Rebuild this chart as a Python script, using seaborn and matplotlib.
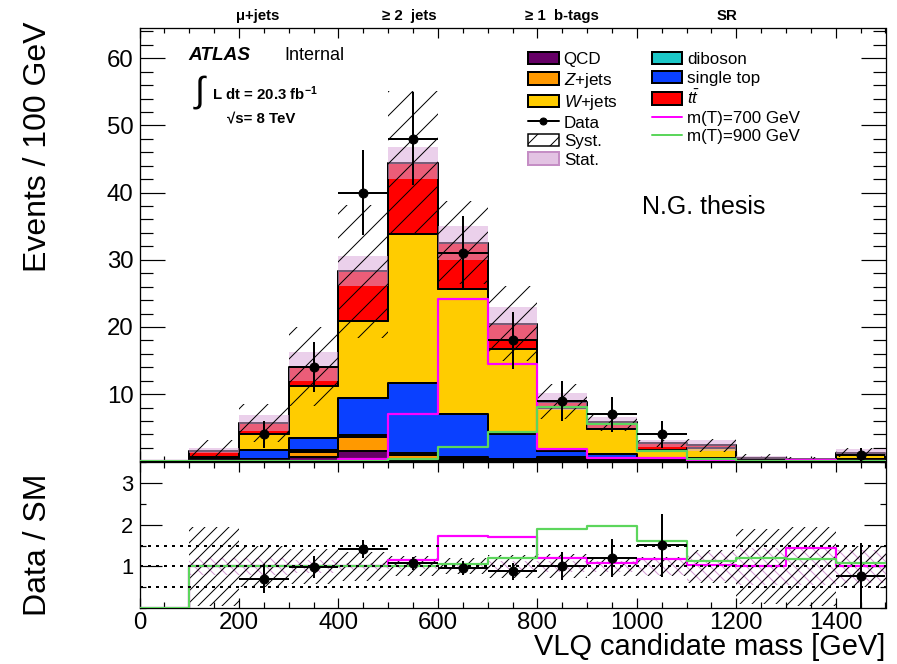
import numpy as np
import pandas as pd
import matplotlib
matplotlib.use("Agg")
import matplotlib.pyplot as plt
import seaborn as sns
from matplotlib.patches import Patch
from matplotlib.lines import Line2D
from matplotlib.ticker import MultipleLocator, FixedLocator

# ---------------- data ----------------
bin_edges = list(range(0, 1600, 100))
qcd      = [0, 0.00, 0.10, 0.60, 1.60, 0.30, 0.30, 0.20, 0.30, 0.20, 0.10, 0.10, 0.05, 0.02, 0.05]
zjets    = [0, 0.05, 0.20, 0.80, 2.00, 0.60, 0.30, 0.10, 0.20, 0.20, 0.10, 0.10, 0.05, 0.02, 0.05]
diboson  = [0, 0.05, 0.10, 0.30, 0.30, 0.30, 0.10, 0.10, 0.10, 0.10, 0.05, 0.05, 0.02, 0.01, 0.05]
singletop= [0, 0.20, 1.30, 1.80, 5.50, 10.4, 6.40, 3.70, 0.90, 0.60, 0.20, 0.30, 0.08, 0.05, 0.15]
wjets    = [0, 0.30, 2.40, 7.70, 11.5, 22.3, 18.5, 12.6, 6.40, 3.70, 1.25, 1.45, 0.30, 0.15, 0.70]
ttbar    = [0, 1.00, 1.60, 2.90, 7.40, 10.5, 6.90, 3.80, 1.00, 1.00, 0.95, 0.40, 0.05, 0.05, 0.28]
data     = [0, 0, 4, 14, 40, 48, 31, 18, 9, 7, 4, 0, 0, 0, 1]
m700     = [0, 0, 0, 0.10, 0.40, 7.10, 24.1, 14.5, 1.80, 0.45, 0.45, 0.07, 0.0, 0.13, 0.0]
m900     = [0, 0, 0, 0.00, 0.10, 0.30, 2.20, 4.30, 8.10, 5.60, 1.60, 0.29, 0.115, 0.05, 0.09]
syst_rel = [0, 0.95, 0.50, 0.42, 0.35, 0.24, 0.19, 0.27, 0.29, 0.22, 0.22, 0.40, 0.90, 0.95, 0.50]
stat_rel = [0, 0.20, 0.20, 0.15, 0.08, 0.055, 0.08, 0.12, 0.14, 0.14, 0.20, 0.35, 0.45, 0.45, 0.40]

proc_names = ["ttbar", "W+jets", "single top", "diboson", "Z+jets", "QCD"]  # top -> bottom
proc_vals = {"QCD": qcd, "Z+jets": zjets, "diboson": diboson,
             "single top": singletop, "W+jets": wjets, "ttbar": ttbar}
colors = {"QCD": "#660066", "Z+jets": "#ff9900", "W+jets": "#ffcc00",
          "diboson": "#1cc8c8", "single top": "#0a40ff", "ttbar": "#ff0000"}
c700 = "#ff00ff"
c900 = "#5cd65c"
stat_face = "#dcaadc"

# ---------------- style ----------------
sns.set_theme(style="ticks")
plt.rcParams["font.family"] = ["Liberation Sans", "DejaVu Sans"]
plt.rcParams["mathtext.fontset"] = "custom"
plt.rcParams["mathtext.rm"] = "Liberation Sans"
plt.rcParams["mathtext.it"] = "Liberation Sans:italic"
plt.rcParams["mathtext.bf"] = "Liberation Sans:bold"
plt.rcParams["hatch.linewidth"] = 1.0
for k in ("text.color", "axes.labelcolor", "xtick.color", "ytick.color", "axes.edgecolor"):
    plt.rcParams[k] = "black"

W, H, DPI = 897, 664, 72
def fx(p): return p / W
def fy(p): return 1 - p / H

fig = plt.figure(figsize=(W / DPI, H / DPI), dpi=DPI)
X0, X1 = 139.5, 885.5
ax = fig.add_axes([fx(X0), fy(461.3), (X1 - X0) / W, (461.3 - 28) / H])
axr = fig.add_axes([fx(X0), fy(608), (X1 - X0) / W, (608 - 462.4) / H])

edges_arr = np.array(bin_edges, dtype=float)
centers = edges_arr[:-1] + 50
tot = np.sum([np.array(proc_vals[p]) for p in proc_names], axis=0)
dat = np.array(data, dtype=float)
mask = tot > 0

# ---------------- main panel: stack ----------------
df = pd.DataFrame({
    "mass": np.tile(centers, len(proc_names)),
    "events": np.concatenate([proc_vals[p] for p in proc_names]),
    "process": np.repeat(proc_names, len(centers)),
})
sns.histplot(data=df, x="mass", weights="events", hue="process", hue_order=proc_names,
             palette=colors, multiple="stack", bins=bin_edges, element="step",
             fill=True, alpha=1, edgecolor="black", linewidth=2, legend=False, ax=ax)

stat_abs = tot * np.array(stat_rel)
syst_abs = tot * np.array(syst_rel)
ax.bar(centers[mask], 2 * stat_abs[mask], bottom=(tot - stat_abs)[mask], width=100,
       color=stat_face, alpha=0.55, linewidth=0, zorder=3)
ax.bar(centers[mask], 2 * syst_abs[mask], bottom=(tot - syst_abs)[mask], width=100,
       facecolor="none", edgecolor="black", hatch="/", linewidth=0, zorder=4)

sns.histplot(x=centers, weights=m700, bins=bin_edges, element="step", fill=False,
             color=c700, linewidth=2.2, ax=ax, zorder=5)
sns.histplot(x=centers, weights=m900, bins=bin_edges, element="step", fill=False,
             color=c900, linewidth=2.2, ax=ax, zorder=5)

dm = dat > 0
ax.errorbar(centers[dm], dat[dm], xerr=50, yerr=np.sqrt(dat[dm]), fmt="o", color="black",
            ms=9, lw=2, capsize=0, zorder=6)

# ---------------- ratio panel ----------------
axr.bar(centers[mask], 2 * np.array(stat_rel)[mask], bottom=1 - np.array(stat_rel)[mask],
        width=100, facecolor="none", edgecolor="#d49ad4", hatch="xx", linewidth=0, zorder=2)
axr.bar(centers[mask], 2 * np.array(syst_rel)[mask], bottom=1 - np.array(syst_rel)[mask],
        width=100, facecolor="none", edgecolor="black", hatch="//", linewidth=0, zorder=3)

safe = np.where(mask, tot, 1.0)
r700 = np.where(mask, (tot + np.array(m700)) / safe, 0.0)
r900 = np.where(mask, (tot + np.array(m900)) / safe, 0.0)
sns.histplot(x=centers, weights=r700, bins=bin_edges, element="step", fill=False,
             color=c700, linewidth=2.2, ax=axr, zorder=4)
sns.histplot(x=centers, weights=r900, bins=bin_edges, element="step", fill=False,
             color=c900, linewidth=2.2, ax=axr, zorder=5)
for yv in (0.5, 1.0, 1.5):
    axr.axhline(yv, color="black", lw=2, ls=(0, (1.5, 2.5)), zorder=6)

rd = dat[dm] / tot[dm]
re = np.sqrt(dat[dm]) / tot[dm]
axr.errorbar(centers[dm], rd, xerr=50, yerr=re, fmt="o", color="black", ms=9, lw=2,
             capsize=0, zorder=7)

# ---------------- axes cosmetics ----------------
for a in (ax, axr):
    a.set_xlim(0, 1500)
    a.xaxis.set_major_locator(MultipleLocator(200))
    a.xaxis.set_minor_locator(MultipleLocator(50))
    a.tick_params(which="both", direction="in", top=True, right=True, width=1.2,
                  color="black", labelcolor="black")
    for s in a.spines.values():
        s.set_linewidth(1.3)
        s.set_color("black")
    a.grid(False)

ax.set_ylim(0, 64.5)
ax.yaxis.set_major_locator(FixedLocator([10, 20, 30, 40, 50, 60]))
ax.yaxis.set_minor_locator(MultipleLocator(2))
ax.tick_params(axis="y", which="major", length=25, labelsize=24, pad=6)
ax.tick_params(axis="y", which="minor", length=13)
ax.tick_params(axis="x", which="major", length=10, labelbottom=False)
ax.tick_params(axis="x", which="minor", length=5)
ax.set_xlabel("")
ax.set_ylabel("Events / 100 GeV", fontsize=32, color="black")
ax.yaxis.set_label_coords(-0.116, 0.725)

axr.set_ylim(0, 3.5)
axr.yaxis.set_major_locator(FixedLocator([1, 2, 3]))
axr.yaxis.set_minor_locator(MultipleLocator(0.5))
axr.tick_params(axis="y", which="major", length=22, labelsize=22, pad=6)
axr.tick_params(axis="y", which="minor", length=6)
axr.tick_params(axis="x", which="major", length=10, labelsize=24, pad=4)
axr.tick_params(axis="x", which="minor", length=6)
axr.set_ylabel("Data / SM", fontsize=32, color="black")
axr.yaxis.set_label_coords(-0.116, 0.433)
axr.set_xlabel("VLQ candidate mass [GeV]", fontsize=29, loc="right", color="black")
axr.xaxis.set_label_coords(1.0, -0.17)

# ---------------- texts ----------------
for txt, xc in (("μ+jets", 258), ("≥ 2  jets", 409), ("≥ 1  b-tags", 562), ("SR", 727)):
    fig.text(fx(xc), fy(16), txt, ha="center", va="center", fontsize=15, fontweight="bold")

fig.text(fx(188), fy(55), "ATLAS", fontsize=19, fontweight="bold", style="italic", va="center")
fig.text(fx(284), fy(55), "Internal", fontsize=18, va="center")
fig.text(fx(195), fy(92), "∫", fontsize=36, va="center")
fig.text(fx(212), fy(94), r"L dt = 20.3 fb$^{\mathbf{-1}}$", fontsize=15, fontweight="bold", va="center")
fig.text(fx(227), fy(118), "√s= 8 TeV", fontsize=15, fontweight="bold", va="center")
fig.text(fx(642), fy(207), "N.G. thesis", fontsize=25, va="center")

# ---------------- legend ----------------
def box(c):
    return Patch(facecolor=c, edgecolor="black", linewidth=2)
handles = [box(colors["QCD"]), box(colors["Z+jets"]), box(colors["W+jets"]),
           Line2D([], [], color="black", marker="o", ms=7, lw=2),
           Patch(facecolor="white", edgecolor="black", hatch="/", linewidth=1.5),
           Patch(facecolor="#e3c3e3", edgecolor="#c58ec5", linewidth=2),
           box(colors["diboson"]), box(colors["single top"]), box(colors["ttbar"]),
           Line2D([], [], color=c700, lw=2), Line2D([], [], color=c900, lw=2)]
labels = ["QCD", "$Z$+jets", "$W$+jets", "Data", "Syst.", "Stat.",
          "diboson", "single top", r"$t\bar{t}$", "m(T)=700 GeV", "m(T)=900 GeV"]
fig.legend(handles, labels, ncol=2, loc="upper left", bbox_to_anchor=(fx(528), fy(52)),
           frameon=False, fontsize=17, handlelength=1.8, handleheight=0.75,
           labelspacing=0.2, handletextpad=0.3, columnspacing=2.0,
           borderpad=0, borderaxespad=0, labelcolor="black")

fig.savefig("out.png", dpi=DPI)
